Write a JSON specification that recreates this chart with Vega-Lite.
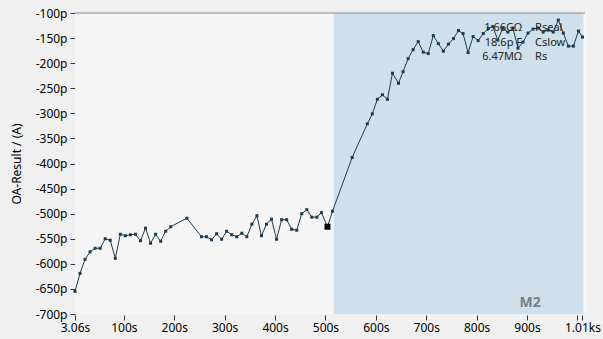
{
  "$schema": "https://vega.github.io/schema/vega-lite/v6.json",
  "width": 510,
  "height": 301,
  "autosize": {"type": "none"},
  "padding": {"left": 75, "top": 13, "right": 18, "bottom": 25},
  "background": "#f0f0f0",
  "view": {"stroke": null},
  "config": {
    "font": "Noto Sans",
    "axisY": {
      "labelExpr": "datum.value + 'p'",
      "tickCount": 12,
      "titleFontWeight": "normal", "titleFontSize": 12, "titleColor": "#000000",
      "titlePadding": 12,
      "grid": false, "domainColor": "#8a8a8a", "tickSize": 5, "tickColor": "#333333",
      "labelColor": "#000000", "labelFontSize": 12, "labelPadding": 3, "labelFlush": false, "labelOverlap": false
    }
  },
  "datasets": {
    "regions": [
      {"start": 3.06, "end": 519, "region": "pre"},
      {"start": 519, "end": 1015, "region": "M2"}
    ],
    "markers": [
      {"t": 204, "kind": "cursor"},
      {"t": 519, "kind": "boundary"},
      {"t": 1015, "kind": "edge"}
    ],
    "series": [
      {"t": 3.06, "v": -655}, {"t": 13, "v": -619}, {"t": 23, "v": -591}, {"t": 33, "v": -576},
      {"t": 43, "v": -569}, {"t": 53, "v": -569}, {"t": 63, "v": -550}, {"t": 73, "v": -553},
      {"t": 83, "v": -589}, {"t": 93, "v": -541}, {"t": 103, "v": -544}, {"t": 113, "v": -542},
      {"t": 123, "v": -541}, {"t": 133, "v": -554}, {"t": 143, "v": -529}, {"t": 153, "v": -559},
      {"t": 163, "v": -541}, {"t": 173, "v": -555}, {"t": 183, "v": -535}, {"t": 193, "v": -526},
      {"t": 225, "v": -509}, {"t": 254, "v": -546}, {"t": 264, "v": -546}, {"t": 274, "v": -552},
      {"t": 284, "v": -540}, {"t": 294, "v": -551}, {"t": 304, "v": -535}, {"t": 314, "v": -542},
      {"t": 324, "v": -546}, {"t": 334, "v": -539}, {"t": 344, "v": -546}, {"t": 354, "v": -521},
      {"t": 364, "v": -504}, {"t": 373, "v": -544}, {"t": 383, "v": -521}, {"t": 393, "v": -511},
      {"t": 403, "v": -551}, {"t": 413, "v": -512}, {"t": 423, "v": -512}, {"t": 433, "v": -531},
      {"t": 443, "v": -533}, {"t": 453, "v": -500}, {"t": 463, "v": -492}, {"t": 473, "v": -507},
      {"t": 483, "v": -507}, {"t": 492, "v": -498}, {"t": 504, "v": -526}, {"t": 514, "v": -495},
      {"t": 553, "v": -388}, {"t": 583, "v": -321}, {"t": 593, "v": -301}, {"t": 603, "v": -272},
      {"t": 613, "v": -263}, {"t": 623, "v": -272}, {"t": 633, "v": -220}, {"t": 645, "v": -240},
      {"t": 654, "v": -217}, {"t": 664, "v": -191}, {"t": 674, "v": -173}, {"t": 684, "v": -157},
      {"t": 694, "v": -178}, {"t": 704, "v": -181}, {"t": 714, "v": -145}, {"t": 724, "v": -161},
      {"t": 734, "v": -176}, {"t": 744, "v": -162}, {"t": 754, "v": -151}, {"t": 764, "v": -135},
      {"t": 773, "v": -141}, {"t": 783, "v": -179}, {"t": 793, "v": -147}, {"t": 803, "v": -155},
      {"t": 813, "v": -141}, {"t": 823, "v": -131}, {"t": 832, "v": -127}, {"t": 842, "v": -154},
      {"t": 852, "v": -130}, {"t": 862, "v": -138}, {"t": 872, "v": -130}, {"t": 882, "v": -170},
      {"t": 892, "v": -158}, {"t": 902, "v": -140}, {"t": 912, "v": -132}, {"t": 922, "v": -130},
      {"t": 932, "v": -138}, {"t": 942, "v": -134}, {"t": 952, "v": -138}, {"t": 962, "v": -114},
      {"t": 972, "v": -140}, {"t": 982, "v": -166}, {"t": 992, "v": -166}, {"t": 1002, "v": -136},
      {"t": 1010, "v": -148}
    ],
    "cursorPoint": [{"t": 504, "v": -526}],
    "params": [
      {"t": 890, "tn": 916, "v": -130, "value": "1.66GΩ", "name": "Rseal"},
      {"t": 890, "tn": 916, "v": -159, "value": "18.6p F", "name": "Cslow"},
      {"t": 890, "tn": 916, "v": -187, "value": "6.47MΩ", "name": "Rs"}
    ],
    "regionLabel": [{"t": 906, "v": -678, "label": "M2"}],
    "topBorder": [{"v": -100}]
  },
  "layer": [
    {
      "data": {"name": "regions"},
      "mark": {"type": "rect"},
      "encoding": {
        "x": {"field": "start", "type": "quantitative", "scale": {"domain": [3.06, 1015], "nice": false, "zero": false},
          "axis": {
            "values": [3.06, 100, 200, 300, 400, 500, 600, 700, 800, 900, 1000, 1010],
            "labelExpr": "datum.value == 1000 ? '' : datum.value == 3.06 ? '3.06s' : datum.value == 1010 ? '1.01ks' : datum.value + 's'",
            "title": null, "domain": false, "grid": false, "tickSize": 5, "tickOffset": 0,
            "offset": 1, "tickColor": "#333333", "labelColor": "#000000", "labelFontSize": 12,
            "labelPadding": 2, "labelFlush": false, "labelOverlap": false
          }
        },
        "x2": {"field": "end"},
        "color": {"field": "region", "type": "nominal", "scale": {"domain": ["pre", "M2"], "range": ["#f5f5f5", "#cfe0ec"]}, "legend": null}
      }
    },
    {
      "data": {"name": "markers"},
      "mark": {"type": "rule"},
      "encoding": {
        "x": {"field": "t", "type": "quantitative"},
        "color": {"field": "kind", "type": "nominal", "scale": {"domain": ["cursor", "boundary", "edge"], "range": ["#b8b8b8", "#c6ccd1", "#ffffff"]}, "legend": null},
        "strokeWidth": {"field": "kind", "type": "nominal", "scale": {"domain": ["cursor", "boundary", "edge"], "range": [2, 3, 1.5]}, "legend": null}
      }
    },
    {
      "data": {"name": "topBorder"},
      "mark": {"type": "rule", "color": "#8a8a8a", "strokeWidth": 1},
      "encoding": {"y": {"field": "v", "type": "quantitative", "scale": {"domain": [-700, -100], "nice": false, "zero": false},
        "axis": {"title": "OA-Result / (A)", "tickCount": 12, "labelOverlap": false}}}
    },
    {
      "data": {"name": "series"},
      "mark": {"type": "line", "color": "#1b3c4e", "strokeWidth": 1,
        "point": {"shape": "square", "size": 9, "filled": true, "color": "#1b3c4e"}},
      "encoding": {
        "x": {"field": "t", "type": "quantitative"},
        "y": {"field": "v", "type": "quantitative",
          "axis": {"title": "OA-Result / (A)", "tickCount": 12, "labelOverlap": false}}
      }
    },
    {
      "data": {"name": "cursorPoint"},
      "mark": {"type": "point", "shape": "square", "filled": true, "size": 36, "color": "#000000", "opacity": 1},
      "encoding": {
        "x": {"field": "t", "type": "quantitative"},
        "y": {"field": "v", "type": "quantitative"}
      }
    },
    {
      "data": {"name": "params"},
      "mark": {"type": "text", "align": "right", "baseline": "middle", "fontSize": 11, "color": "#222222"},
      "encoding": {
        "x": {"field": "t", "type": "quantitative"},
        "y": {"field": "v", "type": "quantitative"},
        "text": {"field": "value"}
      }
    },
    {
      "data": {"name": "params"},
      "mark": {"type": "text", "align": "left", "baseline": "middle", "fontSize": 11, "color": "#222222"},
      "encoding": {
        "x": {"field": "tn", "type": "quantitative"},
        "y": {"field": "v", "type": "quantitative"},
        "text": {"field": "name"}
      }
    },
    {
      "data": {"name": "regionLabel"},
      "mark": {"type": "text", "align": "center", "baseline": "middle", "fontSize": 14, "fontWeight": "bold", "color": "#7a7f84"},
      "encoding": {
        "x": {"field": "t", "type": "quantitative"},
        "y": {"field": "v", "type": "quantitative"},
        "text": {"field": "label"}
      }
    }
  ]
}
